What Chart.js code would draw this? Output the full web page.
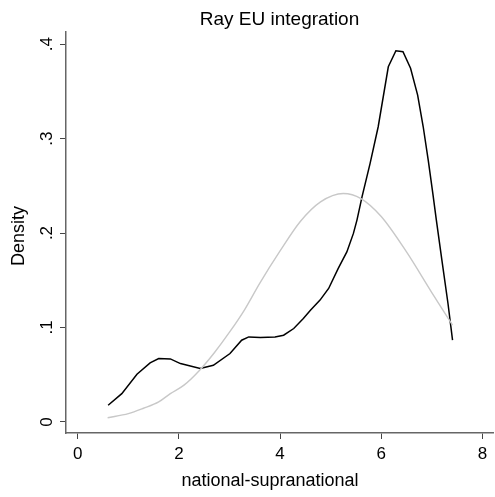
<!DOCTYPE html>
<html>
<head>
<meta charset="utf-8">
<script src="https://cdn.jsdelivr.net/npm/chart.js@4"></script>
<style>
  html, body { margin: 0; padding: 0; background: #fff; }
  #wrap { width: 495px; height: 497px; }
</style>
</head>
<body>
<div id="wrap"><canvas id="myChart" width="495" height="497"></canvas></div>
<script>
// kernel density estimate (black line)
const kdeX = [0.60, 0.87, 1.17, 1.43, 1.60, 1.83, 2.03, 2.42, 2.68, 3.01, 3.24, 3.38, 3.61,
              3.90, 4.07, 4.27, 4.46, 4.60, 4.79, 4.96, 5.15, 5.32, 5.45, 5.52, 5.62, 5.78,
              5.94, 6.14, 6.29, 6.43, 6.58, 6.72, 6.83, 6.93, 7.02, 7.09, 7.20, 7.32, 7.41];
const kdeY = [0.0177, 0.030, 0.0505, 0.0625, 0.0671, 0.0667, 0.0618, 0.0565, 0.060, 0.0724, 0.0865, 0.090, 0.0894,
              0.090, 0.0918, 0.0989, 0.1095, 0.1183, 0.129, 0.1413, 0.1625, 0.180, 0.1996, 0.2137, 0.2383, 0.2737,
              0.3125, 0.376, 0.393, 0.392, 0.3744, 0.346, 0.3125, 0.277, 0.242, 0.2137, 0.171, 0.1254, 0.0866];

// normal density overlay (grey line)
const normX = [0.59, 1.0, 1.3, 1.6, 1.83, 2.1, 2.4, 2.7, 3.0, 3.3, 3.6, 4.0, 4.4, 4.8, 5.25, 5.6, 6.0, 6.5, 7.0, 7.41];
const normY = [0.0044, 0.0088, 0.0145, 0.0212, 0.030, 0.0390, 0.0543, 0.0733, 0.0950, 0.1190, 0.1470, 0.1810, 0.2122,
               0.2330, 0.2419, 0.2365, 0.2175, 0.1800, 0.1370, 0.1024];

const xTicks = [0, 2, 4, 6, 8];
const yTicks = [0, 0.1, 0.2, 0.3, 0.4];
const yTickLabels = ['0', '.1', '.2', '.3', '.4'];

const FONT = 'Arial, "Liberation Sans", sans-serif';

function toPoints(xs, ys) {
    return xs.map((x, i) => ({ x: x, y: ys[i] }));
}

// axis titles drawn by hand so they sit where Stata puts them
const axisTitles = {
    id: 'axisTitles',
    afterDraw(chart) {
        const ctx = chart.ctx;
        ctx.save();
        ctx.fillStyle = '#000';
        ctx.font = '18px ' + FONT;
        ctx.textAlign = 'center';
        ctx.textBaseline = 'alphabetic';
        ctx.fillText('national-supranational', 270, 486);
        ctx.translate(24, 236);
        ctx.rotate(-Math.PI / 2);
        ctx.fillText('Density', 0, 0);
        ctx.restore();
    }
};

const ctx = document.getElementById('myChart').getContext('2d');
new Chart(ctx, {
    type: 'line',
    data: {
        datasets: [{
            data: toPoints(normX, normY),
            borderColor: '#c8c8c8',
            borderWidth: 1.4,
            pointRadius: 0,
            tension: 0.4,
            cubicInterpolationMode: 'monotone',
            fill: false
        }, {
            data: toPoints(kdeX, kdeY),
            borderColor: '#000',
            borderWidth: 1.5,
            pointRadius: 0,
            tension: 0,
            fill: false
        }]
    },
    plugins: [axisTitles],
    options: {
        responsive: false,
        animation: false,
        layout: { padding: { left: 0, right: 2, top: 0, bottom: 0 } },
        plugins: {
            legend: { display: false },
            tooltip: { enabled: false },
            title: {
                display: true,
                text: 'Ray EU integration',
                fullSize: false,
                color: '#000',
                font: { family: FONT, size: 19, weight: 'normal', lineHeight: 1.2 },
                padding: { top: 8, bottom: 1.2 }
            }
        },
        scales: {
            x: {
                type: 'linear',
                min: -0.233,
                max: 8.21,
                afterBuildTicks: s => { s.ticks = xTicks.map(v => ({ value: v })); },
                afterFit: s => { s.height = 64; },
                border: { display: true, color: '#666', width: 1.5 },
                grid: { drawOnChartArea: false, drawTicks: true, tickLength: 6, color: '#444' },
                ticks: {
                    color: '#000',
                    padding: 5,
                    maxRotation: 0,
                    font: { family: FONT, size: 17 }
                }
            },
            y: {
                type: 'linear',
                min: -0.0117,
                max: 0.4128,
                afterBuildTicks: s => { s.ticks = yTicks.map(v => ({ value: v })); },
                afterFit: s => { s.width = 66; },
                border: { display: true, color: '#666', width: 1.5 },
                grid: { drawOnChartArea: false, drawTicks: true, tickLength: 6, color: '#444' },
                ticks: {
                    color: '#000',
                    padding: 6,
                    minRotation: 90,
                    maxRotation: 90,
                    crossAlign: 'center',
                    font: { family: FONT, size: 17 },
                    callback: function (value) {
                        const i = yTicks.indexOf(value);
                        return i >= 0 ? yTickLabels[i] : '';
                    }
                }
            }
        }
    }
});
</script>
</body>
</html>
